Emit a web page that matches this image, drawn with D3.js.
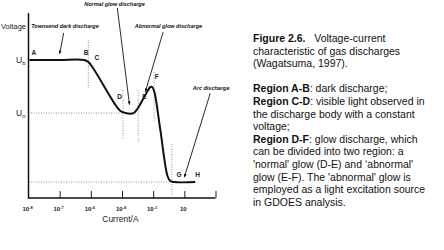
<!DOCTYPE html>
<html>
<head>
<meta charset="utf-8">
<script src="https://cdn.jsdelivr.net/npm/d3@7"></script>
<style>
  body { margin: 0; background: #fff; }
  text { font-family: "Liberation Sans", Arial, sans-serif; }
</style>
</head>
<body>
<div id="vis"></div>
<script>
// tick labels along the current axis (decades, equally spaced)
var tick_base = ["10", "10", "10", "10", "10", "10"];
var tick_exp = ["-8", "-7", "-6", "-4", "-1", ""];

// curve: x = decade index, y = voltage (arbitrary units)
var curve_x = [0.03, 1.0, 1.79, 1.92, 2.05, 2.79, 2.95, 3.11, 3.37, 3.49, 3.75, 3.91, 3.97, 4.04, 4.23, 4.46, 4.55, 4.68, 5.35];
var curve_v = [74.6, 74.6, 74.6, 73.5, 70.8, 50.3, 47.0, 45.9, 45.9, 48.1, 55.7, 60.0, 60.0, 57.3, 36.8, 11.9, 9.2, 8.6, 8.6];

var u_b = 74.6, u_n = 45.9, u_arc = 8.6;

// point labels
var pt_names = ["A", "B", "C", "D", "E", "F", "G", "H"];
var pt_x = [0.1, 1.77, 2.12, 2.85, 3.65, 4.05, 4.75, 5.35];
var pt_v = [77.5, 77.5, 74.5, 53.5, 53.5, 64.5, 11.4, 11.4];

// dotted guide lines
var vline_x = [1.92, 3.03, 3.52, 4.03, 4.6];
var vline_v0 = [85.5, 58.3, 58.3, 68, 29.2];
var vline_v1 = [59.5, 31.3, 29.7, 41, 1];

// annotation arrows
var ann_text = ["Townsend dark discharge", "Normal glow discharge", "Abnormal glow discharge", "Arc discharge"];
var ann_tx = [1.17, 2.76, 4.49, 5.86];
var ann_tv = [91.9, 104, 91.9, 58.4];
var ann_x0 = [1.13, 2.85, 4.32, 5.83];
var ann_v0 = [89.2, 102.7, 89.7, 56.5];
var ann_x1 = [1.0, 3.24, 3.75, 5.0];
var ann_v1 = [78, 50.5, 57.5, 11.3];

// caption
var caption = [
  [["Figure 2.6.", true], ["   Voltage-current", false]],
  [["characteristic of gas discharges", false]],
  [["(Wagatsuma, 1997).", false]],
  [],
  [["Region A-B", true], [": dark discharge;", false]],
  [["Region C-D", true], [": visible light observed in", false]],
  [["the discharge body with a constant", false]],
  [["voltage;", false]],
  [["Region D-F", true], [": glow discharge, which", false]],
  [["can be divided into two region: a", false]],
  [["'normal' glow (D-E) and \u2018abnormal'", false]],
  [["glow (E-F). The 'abnormal' glow is", false]],
  [["employed as a light excitation source", false]],
  [["in GDOES analysis.", false]]
];

var opts = {
  "width": 444,
  "height": 250,
  "x0": 28.5,
  "x1": 215.5,
  "y_bottom": 198,
  "y_top": 13
};

var svg = d3.select("#vis")
  .append("svg")
  .attr("width", opts.width)
  .attr("height", opts.height);

var x = d3.scaleLinear().domain([0, 6]).range([opts.x0, opts.x1]);
var y = d3.scaleLinear().domain([0, 100]).range([opts.y_bottom, opts.y_top]);

svg.append("defs").append("marker")
  .attr("id", "arrow")
  .attr("viewBox", "0 0 10 10")
  .attr("refX", 9).attr("refY", 5)
  .attr("markerWidth", 4).attr("markerHeight", 4)
  .attr("orient", "auto")
  .append("path")
  .attr("d", "M0,1 L10,5 L0,9 Z")
  .attr("fill", "#111");

// dotted guides
var dot = { "stroke": "#777", "stroke-width": 0.8, "stroke-dasharray": "1,1.5" };
function dotted(sel) {
  Object.keys(dot).forEach(function(k) { sel.attr(k, dot[k]); });
  return sel;
}
dotted(svg.append("line")
  .attr("x1", x(0)).attr("x2", x(3.0))
  .attr("y1", y(u_n)).attr("y2", y(u_n)));
dotted(svg.append("line")
  .attr("x1", x(0)).attr("x2", x(4.6))
  .attr("y1", y(u_arc)).attr("y2", y(u_arc)));
vline_x.forEach(function(v, i) {
  dotted(svg.append("line")
    .attr("x1", x(v)).attr("x2", x(v))
    .attr("y1", y(vline_v0[i])).attr("y2", y(vline_v1[i])));
});

// axes
var xAxis = d3.axisTop(x).tickValues([1, 2, 3, 4, 5, 6]).tickSize(7).tickFormat("");
var gx = svg.append("g")
  .attr("transform", "translate(0," + opts.y_bottom + ")")
  .call(xAxis);
gx.select(".domain").remove();
gx.selectAll("line").attr("stroke", "#222").attr("stroke-width", 1);
svg.append("line")
  .attr("x1", x(0)).attr("x2", x(6))
  .attr("y1", opts.y_bottom).attr("y2", opts.y_bottom)
  .attr("stroke", "#111").attr("stroke-width", 1.5);
svg.append("line")
  .attr("x1", x(0)).attr("x2", x(0))
  .attr("y1", opts.y_top).attr("y2", opts.y_bottom + 0.7)
  .attr("stroke", "#111").attr("stroke-width", 1.5);

var tl = svg.selectAll(".tick-label")
  .data(tick_base)
  .enter()
  .append("text")
  .attr("class", "tick-label")
  .attr("x", function(d, i) { return x(i) - 1; })
  .attr("y", opts.y_bottom + 13)
  .attr("text-anchor", "middle")
  .attr("font-size", 6)
  .attr("font-weight", "bold")
  .attr("fill", "#222");
tl.append("tspan").text(function(d) { return d; });
tl.append("tspan")
  .attr("dy", -2.5)
  .attr("font-size", 4)
  .text(function(d, i) { return tick_exp[i]; });

svg.append("text")
  .attr("x", x(2.95)).attr("y", 222)
  .attr("text-anchor", "middle")
  .attr("font-size", 8.5)
  .attr("fill", "#222")
  .text("Current/A");

svg.append("text")
  .attr("x", 1).attr("y", 29)
  .attr("font-size", 7.5)
  .attr("fill", "#222")
  .text("Voltage");

function sub_label(name, sub, v) {
  var t = svg.append("text")
    .attr("x", 16).attr("y", y(v) + 3)
    .attr("font-size", 8.5)
    .attr("fill", "#222");
  t.append("tspan").text(name);
  t.append("tspan").attr("dy", 2).attr("font-size", 6).text(sub);
}
sub_label("U", "b", u_b);
sub_label("U", "n", u_n);

// curve
var pts = curve_x.map(function(v, i) { return [v, curve_v[i]]; });
var line = d3.line()
  .x(function(d) { return x(d[0]); })
  .y(function(d) { return y(d[1]); })
  .curve(d3.curveCatmullRom.alpha(0.5));
svg.append("path")
  .datum(pts)
  .attr("d", line)
  .attr("fill", "none")
  .attr("stroke", "#111")
  .attr("stroke-width", 2);

// point labels
svg.selectAll(".pt")
  .data(pt_names)
  .enter()
  .append("text")
  .attr("class", "pt")
  .attr("x", function(d, i) { return x(pt_x[i]); })
  .attr("y", function(d, i) { return y(pt_v[i]); })
  .attr("font-size", 6.5)
  .attr("font-weight", "bold")
  .attr("fill", "#222")
  .text(function(d) { return d; });

// annotations
svg.selectAll(".ann")
  .data(ann_text)
  .enter()
  .append("text")
  .attr("class", "ann")
  .attr("x", function(d, i) { return x(ann_tx[i]); })
  .attr("y", function(d, i) { return y(ann_tv[i]); })
  .attr("text-anchor", "middle")
  .attr("font-size", 5.5)
  .attr("font-weight", "bold")
  .attr("font-style", "italic")
  .attr("fill", "#111")
  .text(function(d) { return d; });

svg.selectAll(".ann-arrow")
  .data(ann_text)
  .enter()
  .append("line")
  .attr("class", "ann-arrow")
  .attr("x1", function(d, i) { return x(ann_x0[i]); })
  .attr("y1", function(d, i) { return y(ann_v0[i]); })
  .attr("x2", function(d, i) { return x(ann_x1[i]); })
  .attr("y2", function(d, i) { return y(ann_v1[i]); })
  .attr("stroke", "#111")
  .attr("stroke-width", 0.9)
  .attr("marker-end", "url(#arrow)");

// caption text
var cap = svg.append("g").attr("transform", "translate(253,42)");
caption.forEach(function(row, i) {
  var t = cap.append("text")
    .attr("x", 0)
    .attr("y", i * 12.6)
    .attr("font-size", 10.5)
    .attr("fill", "#111")
    .attr("xml:space", "preserve")
    .style("white-space", "pre");
  row.forEach(function(part) {
    t.append("tspan")
      .attr("font-weight", part[1] ? "bold" : "normal")
      .text(part[0]);
  });
});
</script>
</body>
</html>
